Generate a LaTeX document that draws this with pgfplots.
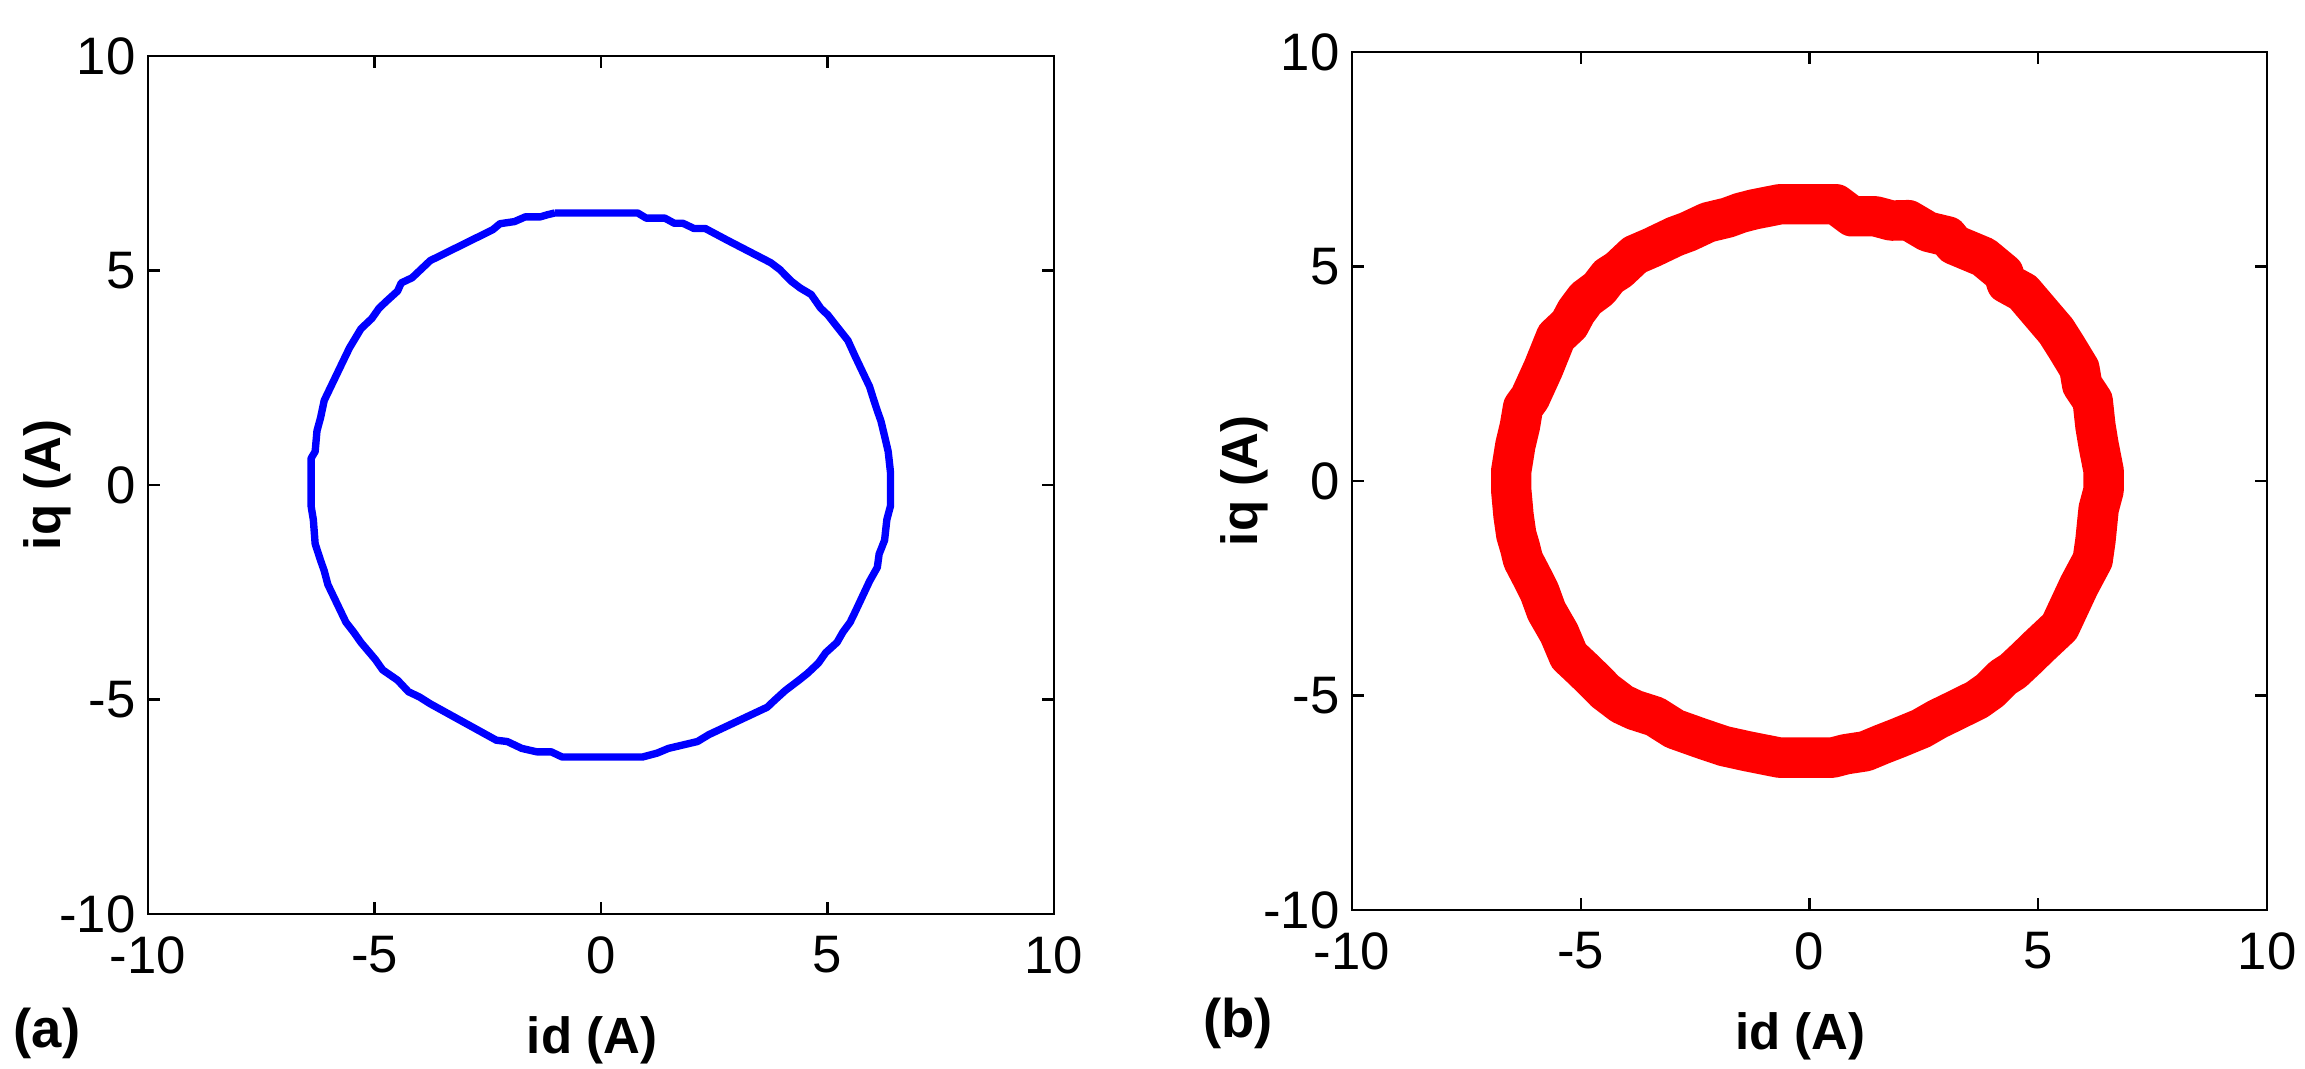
\documentclass[border=0pt]{standalone}
\usepackage{fontspec}
\setmainfont{Liberation Sans}
\usepackage{pgfplots}
\pgfplotsset{compat=1.18}
\definecolor{trajblue}{RGB}{0,0,255}
\definecolor{trajred}{RGB}{255,0,0}

\pgfplotsset{
  dqaxis/.style={
    scale only axis,
    anchor=south west,
    xmin=-10,xmax=10,ymin=-10,ymax=10,
    xtick={-10,-5,0,5,10},ytick={-10,-5,0,5,10},
    xticklabels={-10,-5,0,5,10},yticklabels={-10,-5,0,5,10},
    xtick pos=both,ytick pos=both,
    xticklabel pos=lower,yticklabel pos=left,
    tick align=inside,
    major tick length=0.12cm,
    tick style={black,line width=0.6pt},
    axis line style={black,line width=0.6pt},
    ticklabel style={font=\fontsize{15}{18}\selectfont},
    xticklabel style={yshift=-0.1cm},
    label style={font=\fontsize{14.5}{17}\selectfont\bfseries},
    xlabel={id (A)},
    ylabel={iq (A)},
    xlabel style={at={(axis description cs:0.49,0)},anchor=base,yshift=-1.40cm},
  }
}

\begin{document}
\begin{tikzpicture}
\useasboundingbox (0,0) rectangle (23.05cm,10.69cm);

% (a) measured trajectory, thin line
\begin{axis}[dqaxis,
  at={(1.48cm,1.55cm)},width=9.06cm,height=8.58cm,
  ylabel style={at={(axis description cs:-0.1115,0.5)},anchor=center}]
\addplot[trajblue,line width=2.1pt,line join=round] coordinates {
(-1.02,6.34) (0.81,6.34) (1.00,6.22) (1.41,6.22) (1.62,6.10) (1.81,6.10)
(2.05,5.98) (2.30,5.98) (2.78,5.71) (3.75,5.18) (3.95,5.02) (4.20,4.75)
(4.40,4.59) (4.64,4.44) (4.85,4.12) (5.01,3.96) (5.21,3.69) (5.45,3.37)
(5.61,3.00) (5.93,2.29) (6.01,2.02) (6.10,1.73) (6.18,1.49) (6.26,1.14)
(6.34,0.78) (6.39,0.30) (6.39,-0.49) (6.31,-0.81) (6.26,-1.29) (6.14,-1.61)
(6.10,-1.92) (5.93,-2.24) (5.61,-2.96) (5.50,-3.20) (5.34,-3.43) (5.21,-3.67)
(4.96,-3.91) (4.80,-4.15) (4.56,-4.39) (4.37,-4.55) (4.07,-4.79) (3.83,-5.02)
(3.67,-5.18) (2.38,-5.82) (2.13,-5.98) (1.81,-6.06) (1.49,-6.14) (1.24,-6.25)
(0.92,-6.34) (-0.86,-6.34) (-1.10,-6.22) (-1.42,-6.22) (-1.75,-6.14) (-2.07,-5.98)
(-2.31,-5.95) (-3.77,-5.10) (-4.01,-4.94) (-4.25,-4.82) (-4.49,-4.55) (-4.82,-4.31)
(-4.98,-4.07) (-5.30,-3.67) (-5.46,-3.43) (-5.63,-3.20) (-6.03,-2.32) (-6.11,-2.00)
(-6.19,-1.76) (-6.31,-1.37) (-6.35,-0.81) (-6.40,-0.49) (-6.40,0.62) (-6.31,0.78)
(-6.27,1.26) (-6.19,1.57) (-6.11,1.97) (-5.71,2.85) (-5.55,3.20) (-5.30,3.64)
(-5.06,3.88) (-4.90,4.12) (-4.74,4.28) (-4.49,4.52) (-4.41,4.71) (-4.17,4.83)
(-4.01,4.99) (-3.77,5.23) (-2.39,5.95) (-2.23,6.09) (-1.91,6.14) (-1.67,6.25)
(-1.34,6.25) (-1.18,6.30) (-1.02,6.34)
};
\end{axis}

% (b) trajectory band drawn as one very thick line along its centre
\begin{axis}[dqaxis,
  at={(13.52cm,1.59cm)},width=9.15cm,height=8.58cm,
  ylabel style={at={(axis description cs:-0.118,0.5)},anchor=center}]
\addplot[trajred,line width=11.5pt,line join=round] coordinates {
(-0.65,6.45) (0.58,6.45) (0.93,6.17) (1.44,6.17) (1.79,6.07) (2.16,6.08)
(2.59,5.81) (3.02,5.70) (3.16,5.51) (3.81,5.22) (4.24,4.84) (4.31,4.61)
(4.67,4.40) (5.03,3.95) (5.39,3.50) (5.61,3.13) (5.90,2.62) (5.96,2.24)
(6.19,1.87) (6.25,1.28) (6.32,0.83) (6.43,0.23) (6.43,-0.21) (6.32,-0.65)
(6.25,-1.39) (6.19,-1.84) (5.89,-2.44) (5.47,-3.40) (5.02,-3.85) (4.74,-4.14)
(4.45,-4.43) (4.23,-4.58) (3.95,-4.88) (3.66,-5.10) (3.09,-5.40) (2.80,-5.55)
(2.44,-5.77) (1.94,-5.99) (1.58,-6.14) (1.22,-6.30) (0.79,-6.37) (0.50,-6.45)
(-0.65,-6.45) (-1.36,-6.30) (-1.87,-6.18) (-2.37,-6.00) (-2.95,-5.78) (-3.38,-5.49)
(-3.82,-5.34) (-4.10,-5.20) (-4.47,-4.90) (-4.68,-4.67) (-4.97,-4.37) (-5.26,-4.08)
(-5.47,-3.55) (-5.75,-3.03) (-5.90,-2.59) (-6.04,-2.29) (-6.26,-1.84) (-6.33,-1.54)
(-6.41,-1.25) (-6.47,-0.80) (-6.52,-0.21) (-6.52,0.23) (-6.43,0.83) (-6.33,1.28)
(-6.26,1.72) (-6.11,1.94) (-5.82,2.62) (-5.54,3.36) (-5.25,3.65) (-5.10,3.95)
(-4.89,4.25) (-4.60,4.48) (-4.39,4.77) (-4.17,4.92) (-3.82,5.27) (-3.45,5.44)
(-2.94,5.70) (-2.66,5.81) (-2.22,6.03) (-1.79,6.14) (-1.51,6.25) (-1.22,6.33)
(-0.65,6.45)
} -- cycle;
\end{axis}

\node[font=\fontsize{15.5}{18}\selectfont\bfseries] at (0.47cm,0.36cm) {(a)};
\node[font=\fontsize{15.5}{18}\selectfont\bfseries] at (12.38cm,0.46cm) {(b)};
\end{tikzpicture}
\end{document}
